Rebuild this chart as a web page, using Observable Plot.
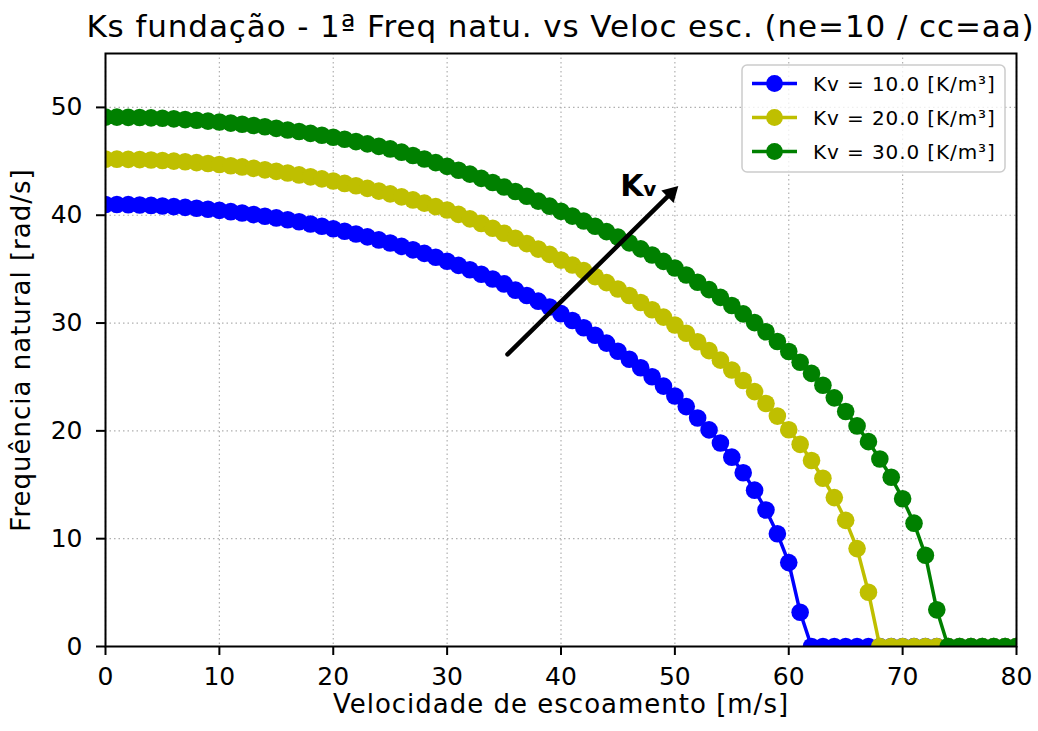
<!DOCTYPE html>
<html><head><meta charset="utf-8">
<script src="https://cdn.jsdelivr.net/npm/d3@7"></script>
<script src="https://cdn.jsdelivr.net/npm/@observablehq/plot@0.6"></script>
<style>
html,body{margin:0;padding:0;background:#fff;}
#title{position:relative;width:1038px;height:52px;}
#title span{position:absolute;left:560.5px;top:0;transform:translateX(-50%);line-height:52px;font-family:"DejaVu Sans";font-size:31px;letter-spacing:0.9px;color:#000;white-space:nowrap;}
#chart svg{display:block;}
</style></head><body>
<div id="title"><span></span></div>
<div id="chart"></div>
<script>
const titleText = "Ks fundação - 1ª Freq natu. vs Veloc esc. (ne=10 / cc=aa)";
const xLabel = "Velocidade de escoamento [m/s]";
const yLabel = "Frequência natural [rad/s]";

const velocity = [0,1,2,3,4,5,6,7,8,9,10,11,12,13,14,15,16,17,18,19,20,21,22,23,24,25,26,27,28,29,30,31,32,33,34,35,36,37,38,39,40,41,42,43,44,45,46,47,48,49,50,51,52,53,54,55,56,57,58,59,60,61,62,63,64,65,66,67,68,69,70,71,72,73,74,75,76,77,78,79,80];

const freqKv10 = [
41.00, 40.99, 40.98, 40.95, 40.91, 40.86, 40.80, 40.73, 40.65, 40.55,
40.45, 40.33, 40.21, 40.06, 39.91, 39.75, 39.58, 39.39, 39.19, 38.98,
38.75, 38.51, 38.26, 37.99, 37.71, 37.42, 37.11, 36.79, 36.46, 36.10,
35.73, 35.35, 34.95, 34.53, 34.08, 33.63, 33.05, 32.55, 32.03, 31.49,
30.87, 30.23, 29.56, 28.87, 28.14, 27.38, 26.64, 25.85, 25.02, 24.15,
23.23, 22.25, 21.20, 20.09, 18.88, 17.56, 16.12, 14.50, 12.66, 10.46,
7.78, 3.18, 0, 0, 0, 0, 0, 0, 0, 0,
0, 0, 0, 0, 0, 0, 0, 0, 0, 0, 0];

const freqKv20 = [
45.20, 45.20, 45.18, 45.16, 45.12, 45.08, 45.02, 44.96, 44.88, 44.80,
44.70, 44.59, 44.48, 44.35, 44.21, 44.07, 43.91, 43.74, 43.56, 43.37,
43.17, 42.95, 42.73, 42.49, 42.24, 41.98, 41.70, 41.42, 41.12, 40.80,
40.48, 40.08, 39.66, 39.24, 38.79, 38.33, 37.86, 37.37, 36.86, 36.37,
35.84, 35.38, 34.86, 34.31, 33.75, 33.16, 32.55, 31.91, 31.24, 30.55,
29.82, 29.06, 28.27, 27.44, 26.56, 25.64, 24.67, 23.64, 22.54, 21.37,
20.11, 18.75, 17.25, 15.60, 13.81, 11.70, 9.08, 5.03, 0, 0,
0, 0, 0, 0, 0, 0, 0, 0, 0, 0, 0];

const freqKv30 = [
49.10, 49.10, 49.08, 49.06, 49.03, 48.99, 48.94, 48.87, 48.81, 48.73,
48.64, 48.54, 48.44, 48.32, 48.20, 48.06, 47.91, 47.76, 47.59, 47.42,
47.23, 47.04, 46.83, 46.62, 46.39, 46.15, 45.85, 45.54, 45.21, 44.88,
44.53, 44.17, 43.81, 43.42, 43.03, 42.62, 42.20, 41.76, 41.31, 40.84,
40.36, 39.92, 39.46, 38.98, 38.48, 37.97, 37.44, 36.88, 36.31, 35.72,
35.10, 34.46, 33.79, 33.10, 32.38, 31.63, 30.85, 30.04, 29.19, 28.29,
27.36, 26.37, 25.33, 24.23, 23.06, 21.80, 20.46, 19.00, 17.39, 15.70,
13.71, 11.44, 8.47, 3.40, 0, 0, 0, 0, 0, 0, 0];

const seriesLabels = ["Kv = 10.0 [K/m³]", "Kv = 20.0 [K/m³]", "Kv = 30.0 [K/m³]"];
const seriesColors = ["#0000ff", "#bfbf00", "#008000"];
const xTicks = [0, 10, 20, 30, 40, 50, 60, 70, 80];
const yTicks = [0, 10, 20, 30, 40, 50];
const arrowLine = [{x1: 35.3, y1: 27.1, x2: 50.3, y2: 42.7}];
const arrowLabel = [{x: 45.2, y: 41.75, main: "K", sub: "v"}];

document.querySelector("#title span").textContent = titleText;

const W = 1038, H = 679, ML = 105, MR = 22, MT = 1, MB = 85;
const xDomain = [0, 80], yDomain = [0, 55];
const pxX = (W - ML - MR) / (xDomain[1] - xDomain[0]);
const pxY = (H - MT - MB) / (yDomain[1] - yDomain[0]);
const a = arrowLine[0];
const sdx = (a.x2 - a.x1) * pxX, sdy = -(a.y2 - a.y1) * pxY;
const slen = Math.hypot(sdx, sdy);
const ux = sdx / slen, uy = sdy / slen;
const headR = 6.5;
const tipOff = 1.555 * headR;
const headRot = Math.atan2(ux, -uy) * 180 / Math.PI;

const seriesValues = [freqKv10, freqKv20, freqKv30];
const seriesMarks = seriesValues.flatMap((vals, i) => {
  const d = velocity.map((v, j) => ({v, f: vals[j]}));
  return [
    Plot.line(d, {x: "v", y: "f", stroke: seriesColors[i], strokeWidth: 3.5, clip: true}),
    Plot.dot(d, {x: "v", y: "f", r: 8.8, fill: seriesColors[i], stroke: "none", clip: true})
  ];
});

const chart = Plot.plot({
  width: W, height: H,
  marginLeft: ML, marginRight: MR, marginTop: MT, marginBottom: MB,
  style: {fontFamily: "DejaVu Sans", fontSize: "25px", background: "white", color: "black", overflow: "visible"},
  x: {domain: xDomain, ticks: xTicks, tickSize: 9, tickPadding: 12, label: null, tickFormat: d => String(d)},
  y: {domain: yDomain, ticks: yTicks, tickSize: 9, tickPadding: 14, label: null, tickFormat: d => String(d)},
  marks: [
    Plot.ruleX(xTicks, {stroke: "#b0b0b0", strokeWidth: 1.2, strokeDasharray: "1.5,3"}),
    Plot.ruleY(yTicks, {stroke: "#b0b0b0", strokeWidth: 1.2, strokeDasharray: "1.5,3"}),
    ...seriesMarks,
    Plot.arrow(arrowLine, {x1: "x1", y1: "y1", x2: "x2", y2: "y2", stroke: "black", strokeWidth: 4.5, headLength: 0, insetEnd: tipOff}),
    Plot.dot(arrowLine, {x: "x2", y: "y2", symbol: "triangle", r: headR, fill: "black", stroke: "none", rotate: headRot, dx: -tipOff * ux, dy: -tipOff * uy}),
    Plot.text(arrowLabel, {x: "x", y: "y", text: "main", textAnchor: "start", lineAnchor: "bottom", fontSize: 30, fontWeight: "bold", fill: "black"}),
    Plot.text(arrowLabel, {x: "x", y: "y", text: "sub", textAnchor: "start", lineAnchor: "bottom", fontSize: 20, fontWeight: "bold", fill: "black", dx: 23}),
    Plot.frame({stroke: "black", strokeWidth: 2}),
    Plot.text([xLabel], {text: d => d, frameAnchor: "bottom", textAnchor: "middle", lineAnchor: "bottom", dy: 66, fontSize: 26, fill: "black"}),
    Plot.text([yLabel], {text: d => d, frameAnchor: "left", textAnchor: "middle", lineAnchor: "bottom", rotate: -90, dx: -76, fontSize: 26, fill: "black"})
  ]
});

const svg = d3.select(chart);
svg.selectAll('g[aria-label="x-axis tick"], g[aria-label="y-axis tick"]').attr("stroke-width", 2);
svg.selectAll('g[aria-label="x-axis tick label"], g[aria-label="y-axis tick label"]').attr("font-size", 25).style("font-size", "25px");
svg.selectAll('g[aria-label="x-axis tick label"] text, g[aria-label="y-axis tick label"] text').style("font-size", "25px");
svg.selectAll('g[aria-label="text"]').filter(function () {
  const t = this.textContent;
  return t === xLabel || t === yLabel;
}).style("letter-spacing", "1px");

// legend
const lg = svg.append("g").attr("font-family", "DejaVu Sans").attr("font-size", 20).attr("text-anchor", "start");
lg.append("rect").attr("x", 742).attr("y", 13).attr("width", 263).attr("height", 107)
  .attr("rx", 5).attr("fill", "white").attr("fill-opacity", 0.8).attr("stroke", "#cccccc").attr("stroke-width", 1.5);
seriesLabels.forEach((lab, i) => {
  const cy = 31.5 + i * 34;
  lg.append("line").attr("x1", 752).attr("x2", 797).attr("y1", cy).attr("y2", cy)
    .attr("stroke", seriesColors[i]).attr("stroke-width", 3.5);
  lg.append("circle").attr("cx", 774.5).attr("cy", cy).attr("r", 8.4).attr("fill", seriesColors[i]);
  lg.append("text").attr("x", 813).attr("y", cy).attr("dy", "0.36em").attr("fill", "black")
    .attr("text-anchor", "start").style("letter-spacing", "0.9px").text(lab);
});

document.getElementById("chart").appendChild(chart);
</script>
</body></html>
